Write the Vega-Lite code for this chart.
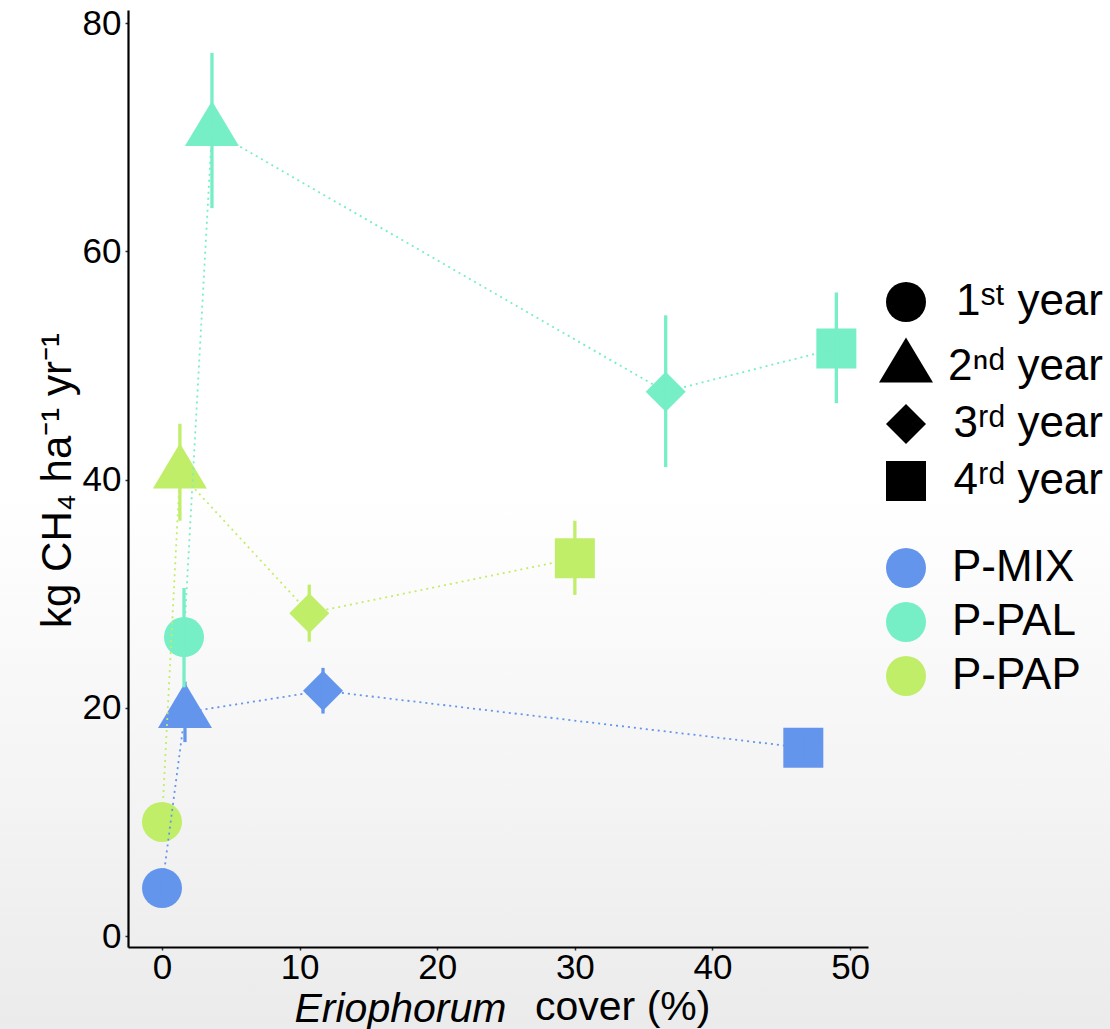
{
  "$schema": "https://vega.github.io/schema/vega-lite/v6.json",
  "width": 740,
  "height": 937,
  "autosize": {"type": "none"},
  "padding": {"left": 128, "top": 10, "right": 242, "bottom": 82},
  "background": "white",
  "title": {
    "text": "cover (%)",
    "orient": "bottom",
    "anchor": "start",
    "frame": "group",
    "dx": 407,
    "offset": -11,
    "baseline": "alphabetic",
    "font": "Liberation Sans",
    "fontSize": 41,
    "fontWeight": "normal",
    "color": "black"
  },
  "datasets": {
    "flux": [
      {"Site": "P-MIX", "Year": "1ˢᵗ year", "Cover": 0.0, "Flux": 4.2, "Lower": 3.2, "Upper": 5.2},
      {"Site": "P-MIX", "Year": "2ⁿᵈ year", "Cover": 1.67, "Flux": 19.6, "Lower": 17.0, "Upper": 22.3},
      {"Site": "P-MIX", "Year": "3ʳᵈ year", "Cover": 11.7, "Flux": 21.5, "Lower": 19.5, "Upper": 23.5},
      {"Site": "P-MIX", "Year": "4ʳᵈ year", "Cover": 46.6, "Flux": 16.5, "Lower": 15.5, "Upper": 17.5},
      {"Site": "P-PAL", "Year": "1ˢᵗ year", "Cover": 1.6, "Flux": 26.2, "Lower": 21.8, "Upper": 30.5},
      {"Site": "P-PAL", "Year": "2ⁿᵈ year", "Cover": 3.63, "Flux": 70.6, "Lower": 63.8, "Upper": 77.4},
      {"Site": "P-PAL", "Year": "3ʳᵈ year", "Cover": 36.6, "Flux": 47.7, "Lower": 41.1, "Upper": 54.4},
      {"Site": "P-PAL", "Year": "4ʳᵈ year", "Cover": 49.0, "Flux": 51.5, "Lower": 46.7, "Upper": 56.4},
      {"Site": "P-PAP", "Year": "1ˢᵗ year", "Cover": 0.0, "Flux": 10.0, "Lower": 9.0, "Upper": 11.0},
      {"Site": "P-PAP", "Year": "2ⁿᵈ year", "Cover": 1.3, "Flux": 40.6, "Lower": 36.4, "Upper": 44.9},
      {"Site": "P-PAP", "Year": "3ʳᵈ year", "Cover": 10.7, "Flux": 28.3, "Lower": 25.8, "Upper": 30.8},
      {"Site": "P-PAP", "Year": "4ʳᵈ year", "Cover": 30.0, "Flux": 33.1, "Lower": 29.9, "Upper": 36.4}
    ]
  },
  "config": {
    "view": {"stroke": null},
    "font": "Liberation Sans",
    "axis": {
      "grid": false,
      "domainColor": "black",
      "domainWidth": 2.2,
      "tickColor": "#333333",
      "tickSize": 3,
      "tickWidth": 1.5,
      "labelFont": "Liberation Sans",
      "labelFontSize": 35,
      "labelColor": "black",
      "titleFont": "Liberation Sans",
      "titleFontWeight": "normal",
      "titleColor": "black"
    },
    "legend": {
      "labelFont": "Liberation Sans",
      "labelFontSize": 44,
      "labelColor": "black",
      "labelLimit": 400
    }
  },
  "layer": [
    {
      "data": {"values": [{"bg": 1}]},
      "mark": {
        "type": "rect",
        "clip": false,
        "fill": {
          "gradient": "linear",
          "x1": 0, "y1": 0, "x2": 0, "y2": 1,
          "stops": [
            {"offset": 0, "color": "#ffffff"},
            {"offset": 0.48, "color": "#ffffff"},
            {"offset": 1, "color": "#ebebeb"}
          ]
        }
      },
      "encoding": {
        "x": {"datum": -11.8, "type": "quantitative"},
        "x2": {"datum": 69},
        "y": {"datum": -8.3, "type": "quantitative"},
        "y2": {"datum": 82.1}
      }
    },
    {
      "data": {"name": "flux"},
      "mark": {"type": "point", "filled": true, "opacity": 1, "size": 1600, "strokeWidth": 0},
      "encoding": {
        "x": {
          "field": "Cover", "type": "quantitative",
          "scale": {"domain": [-2.47, 51.3], "nice": false, "zero": false},
          "axis": {
            "zindex": 2,
            "values": [0, 10, 20, 30, 40, 50],
            "labelPadding": 0,
            "title": "Eriophorum",
            "titleFontStyle": "italic",
            "titleFontSize": 41,
            "titleAnchor": "start",
            "titleAlign": "left",
            "titleBaseline": "alphabetic",
            "titleX": 166,
            "titleY": 74
          }
        },
        "y": {
          "field": "Flux", "type": "quantitative",
          "scale": {"domain": [-0.96, 81.16], "nice": false, "zero": false},
          "axis": {
            "zindex": 2,
            "values": [0, 20, 40, 60, 80],
            "labelPadding": 4,
            "title": "kg CH₄ ha⁻¹ yr⁻¹",
            "titleFontSize": 42,
            "titleAngle": 270,
            "titleAlign": "center",
            "titleBaseline": "alphabetic",
            "titleX": -58,
            "titleY": 470
          }
        },
        "color": {
          "field": "Site", "type": "nominal",
          "scale": {"domain": ["P-MIX", "P-PAL", "P-PAP"], "range": ["#6495ED", "#76EEC6", "#C0EE69"]},
          "legend": {
            "title": null,
            "orient": "none",
            "legendX": 756,
            "legendY": 536,
            "symbolType": "circle",
            "symbolSize": 1600,
            "symbolStrokeWidth": 0,
            "symbolOpacity": 1,
            "labelOffset": 24,
            "rowPadding": 10
          }
        },
        "shape": {
          "field": "Year", "type": "nominal",
          "scale": {
            "domain": ["1ˢᵗ year", "2ⁿᵈ year", "3ʳᵈ year", "4ʳᵈ year"],
            "range": ["circle", "M0,-1.48L1.35,0.78L-1.35,0.78Z", "diamond", "square"]
          },
          "legend": {
            "title": null,
            "orient": "none",
            "legendX": 756,
            "legendY": 270,
            "symbolSize": 1600,
            "symbolFillColor": "black",
            "symbolStrokeColor": "black",
            "symbolStrokeWidth": 0,
            "symbolOpacity": 1,
            "labelAlign": "right",
            "labelOffset": 175,
            "rowPadding": 13
          }
        }
      }
    },
    {
      "data": {"name": "flux"},
      "mark": {"type": "line", "strokeWidth": 1.8, "strokeDash": [2, 4]},
      "encoding": {
        "x": {"field": "Cover", "type": "quantitative"},
        "y": {"field": "Flux", "type": "quantitative"},
        "color": {"field": "Site", "type": "nominal"},
        "order": {"field": "Year"}
      }
    },
    {
      "data": {"name": "flux"},
      "mark": {"type": "rule", "strokeWidth": 3.3},
      "encoding": {
        "x": {"field": "Cover", "type": "quantitative"},
        "y": {"field": "Lower", "type": "quantitative"},
        "y2": {"field": "Upper"},
        "color": {"field": "Site", "type": "nominal"}
      }
    }
  ]
}
